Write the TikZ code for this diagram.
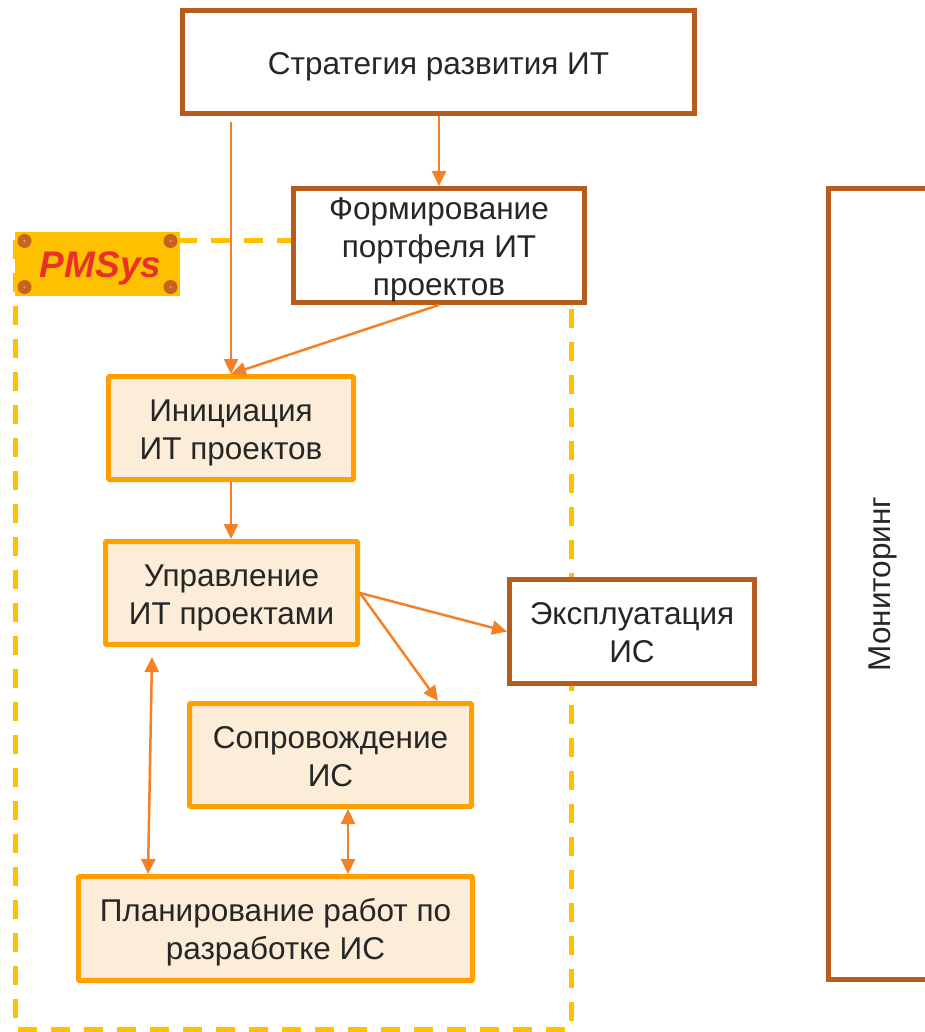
\documentclass[tikz,border=0pt]{standalone}
\usepackage{fontspec}
\setmainfont{Liberation Sans}
\usetikzlibrary{arrows.meta}
\definecolor{brn}{RGB}{181,92,30}
\definecolor{org}{RGB}{255,160,0}
\definecolor{lfill}{RGB}{252,237,216}
\definecolor{arrc}{RGB}{245,128,37}
\definecolor{ylw}{RGB}{255,192,0}
\definecolor{pmred}{RGB}{232,50,40}
\definecolor{dotc}{RGB}{200,98,30}
\definecolor{dotl}{RGB}{240,135,60}
\newcommand{\boxlines}[2][36pt]{\begin{tabular}{@{}c@{}}\rule{0pt}{#1}#2\end{tabular}}

\begin{document}
\begin{tikzpicture}
        [x=1pt, y=-1pt, every node/.style={inner sep=0, text=black!85, font=\fontsize{31.5}{38}\selectfont},
        outerbox/.style={draw=brn, line width=5pt, fill=white},
        innerbox/.style={draw=org, line width=5pt, fill=lfill, rounded corners=1pt},
        arr/.style={draw=arrc, line width=2.5pt, -{Triangle[length=15pt,width=14pt]}},
        arrboth/.style={draw=arrc, line width=2.5pt, {Triangle[length=15pt,width=14pt]}-{Triangle[length=15pt,width=14pt]}}]

        \useasboundingbox (0,0) rectangle (925,1032);

        % PMSys area
        \draw[ylw, line width=5pt, dash pattern=on 19pt off 14pt] (15,240) rectangle (571,1029);
        \node[fill=ylw, minimum width=165pt, minimum height=64pt, text=pmred, font=\fontsize{37}{40}\selectfont\bfseries\itshape] (pms) at (97.5,264) {\kern6pt\rule{0pt}{34pt}PMSys};
        \foreach \dx/\dy in {-73/-23, 73/-23, -73/23, 73/23} {
          \fill[dotc] ([shift={(\dx,\dy)}]pms.center) circle (7pt);
          \fill[dotl] ([shift={(\dx,\dy)}]pms.center) circle (1.5pt);
        }

        \node[outerbox, minimum width=512pt, minimum height=103pt] (strat) at (438.5,62) {\boxlines{Стратегия развития ИТ}};
        \node[outerbox, minimum width=291pt, minimum height=114pt] (portf) at (439,245.5) {\boxlines[30pt]{Формирование\\портфеля ИТ\\проектов\\[-5pt]}};
        \node[innerbox, minimum width=245pt, minimum height=103pt] (init) at (231,428) {\boxlines{Инициация\\ИТ проектов}};
        \node[innerbox, minimum width=252pt, minimum height=103pt] (upr) at (231.5,593) {\boxlines{Управление\\ИТ проектами}};
        \node[outerbox, minimum width=245pt, minimum height=104pt] (expl) at (632,631.5) {\boxlines{Эксплуатация\\ИС}};
        \node[innerbox, minimum width=282pt, minimum height=103pt] (sopr) at (330.5,755) {\boxlines{Сопровождение\\ИС}};
        \node[innerbox, minimum width=394pt, minimum height=104pt] (plan) at (275.5,928.5) {\boxlines{Планирование работ по\\разработке ИС}};
        \node[outerbox, rotate=90, minimum width=791pt, minimum height=100pt] (monit) at (878.5,584) {\boxlines{Мониторинг}};

        \draw[arr, shorten <=6pt] (init.north |- strat.south) -- (init.north);
        \draw[arr] (strat.south -| portf.north) -- (portf.north);
        \draw[arr] (portf.south) -- (init.north);
        \draw[arr] (init.south) -- (init.south |- upr.north);
        \draw[arr] (upr.east) -- (expl.west);
        \draw[arr] (upr.east) -- ([xshift=107.5]sopr.north);
        \draw[arrboth] ([shift={(49,10)}]upr.south west) -- ([xshift=72]plan.north west);
        \draw[arrboth] ([xshift=17.5]sopr.south) -- ([xshift=17.5]sopr.south |- plan.north);
      \end{tikzpicture}
\end{document}
